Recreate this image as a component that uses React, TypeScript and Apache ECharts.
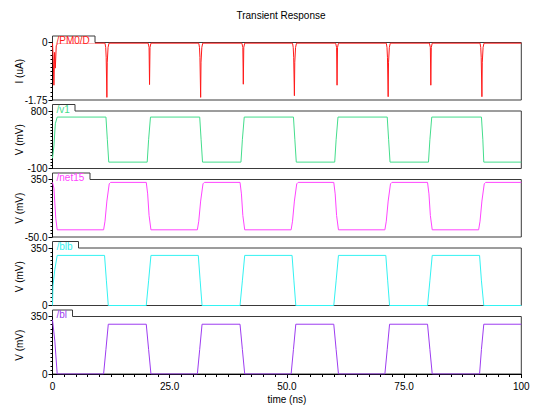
import React, { useEffect, useRef } from "react";
import * as echarts from "echarts";

// ---------- data (time in ns) ----------
const xTickLabels = ["0", "25.0", "50.0", "75.0", "100"];

const currentPM0D: [number, number][] = [
  [0, -0.02], [0.15, -0.5], [0.3, -1.3], [0.45, -0.3], [0.6, -0.78], [0.8, -0.1], [1.1, -0.02],
  [11.2, -0.02], [11.35, -0.15], [11.45, -0.45], [11.6, -1.67], [11.68, -0.6], [11.85, -0.15], [12.05, -0.02],
  [20.4, -0.02], [20.6, -0.15], [20.7, -1.28], [20.8, -0.15], [21.0, -0.02],
  [31.2, -0.02], [31.35, -0.15], [31.45, -0.45], [31.6, -1.67], [31.68, -0.6], [31.85, -0.15], [32.05, -0.02],
  [40.4, -0.02], [40.6, -0.15], [40.7, -1.27], [40.8, -0.15], [41.0, -0.02],
  [51.2, -0.02], [51.35, -0.15], [51.45, -0.45], [51.6, -1.62], [51.68, -0.6], [51.85, -0.15], [52.05, -0.02],
  [60.4, -0.02], [60.6, -0.15], [60.7, -1.3], [60.8, -0.15], [61.0, -0.02],
  [71.2, -0.02], [71.35, -0.15], [71.45, -0.45], [71.6, -1.65], [71.68, -0.6], [71.85, -0.15], [72.05, -0.02],
  [80.4, -0.02], [80.6, -0.15], [80.7, -1.3], [80.8, -0.15], [81.0, -0.02],
  [91.2, -0.02], [91.35, -0.15], [91.45, -0.45], [91.6, -1.65], [91.68, -0.6], [91.85, -0.15], [92.05, -0.02],
  [100, -0.02],
];

const v1: [number, number][] = [
  [0, 60], [0.3, 250], [0.6, 600], [1.0, 705],
  [11.4, 705], [11.7, 350], [12.0, 0], [20.2, 0], [20.5, 350], [20.9, 705],
  [31.4, 705], [31.7, 350], [32.0, 0], [40.2, 0], [40.5, 350], [40.9, 705],
  [51.4, 705], [51.7, 350], [52.0, 0], [60.2, 0], [60.5, 350], [60.9, 705],
  [71.4, 705], [71.7, 350], [72.0, 0], [80.2, 0], [80.5, 350], [80.9, 705],
  [91.5, 705], [91.8, 350], [92.0, 0], [100, 0],
];

const net15: [number, number][] = [
  [0, 330], [0.3, 290], [0.7, 80], [1.0, 0],
  [10.9, 0], [11.2, 60], [11.6, 200], [12.1, 320], [12.4, 330], [20.0, 330], [20.3, 250], [20.6, 100], [21.0, 0],
  [30.9, 0], [31.2, 60], [31.6, 200], [32.1, 320], [32.4, 330], [40.0, 330], [40.3, 250], [40.6, 100], [41.0, 0],
  [50.9, 0], [51.2, 60], [51.6, 200], [52.1, 320], [52.4, 330], [60.0, 330], [60.3, 250], [60.6, 100], [61.0, 0],
  [70.9, 0], [71.2, 60], [71.6, 200], [72.1, 320], [72.4, 330], [80.0, 330], [80.3, 250], [80.6, 100], [81.0, 0],
  [90.9, 0], [91.2, 60], [91.6, 200], [92.1, 320], [92.4, 330], [100, 330],
];

const blb: [number, number][] = [
  [0, 0], [0.1, 120], [0.5, 220], [1.0, 305],
  [11.1, 305], [11.5, 150], [11.9, 0], [20.0, 0], [20.5, 150], [21.0, 305],
  [31.1, 305], [31.5, 150], [31.9, 0], [40.0, 0], [40.5, 150], [41.0, 305],
  [51.1, 305], [51.5, 150], [51.9, 0], [60.0, 0], [60.5, 150], [61.0, 305],
  [71.1, 305], [71.5, 150], [71.9, 0], [80.0, 0], [80.5, 150], [81.0, 305],
  [91.1, 305], [91.5, 150], [92.0, 0], [100, 0],
];

const bl: [number, number][] = [
  [0, 330], [0.5, 200], [1.0, 0],
  [10.9, 0], [11.4, 150], [11.9, 303], [20.0, 303], [20.5, 150], [21.0, 0],
  [30.9, 0], [31.4, 150], [31.9, 303], [40.0, 303], [40.5, 150], [41.0, 0],
  [50.9, 0], [51.4, 150], [51.9, 303], [60.0, 303], [60.5, 150], [61.0, 0],
  [70.9, 0], [71.4, 150], [71.9, 303], [80.0, 303], [80.5, 150], [81.0, 0],
  [91.1, 0], [91.5, 150], [92.0, 303], [100, 303],
];

const signalNames = ["/PM0/D", "/v1", "/net15", "/blb", "/bl"];
const signalData = [currentPM0D, v1, net15, blb, bl];
const yNames = ["I (uA)", "V (mV)", "V (mV)", "V (mV)", "V (mV)"];
const yMins = [-1.75, -100, -50, 0, 0];
const yMaxs = [0, 800, 350, 350, 350];
const yTickLabels = [
  ["-1.75", "0"],
  ["-100", "800"],
  ["-50.0", "350"],
  ["0", "350"],
  ["0", "350"],
];

// ---------- styling ----------
const COLORS = ["#ff1a1a", "#44dd8c", "#ff44ff", "#33f2f2", "#9d3cf0"];
const FONT = '"Liberation Sans", Arial, sans-serif';
const GRID_LEFT = 52.5;
const GRID_RIGHT = 11.7;
const GRID_TOPS = [42.5, 111, 179.5, 248, 316.5];
const GRID_H = 57.5;
const TAB_W = [42.5, 22.5, 37.5, 26, 20];
const MINOR_SPLITS = [14, 18, 16, 14, 14];

export default function App() {
  const ref = useRef<HTMLDivElement>(null);

  useEffect(() => {
    document.body.style.margin = "0";
    if (!ref.current) return;
    const chart = echarts.init(ref.current, undefined, { renderer: "svg" });

    const grids = GRID_TOPS.map((top) => ({
      left: GRID_LEFT,
      right: GRID_RIGHT,
      top,
      height: GRID_H,
      show: true,
      borderColor: "#3a3a3a",
      borderWidth: 1,
      backgroundColor: "#fff",
    }));

    const xAxes = GRID_TOPS.map((_, i) => {
      const last = i === GRID_TOPS.length - 1;
      return {
        type: "value",
        gridIndex: i,
        min: 0,
        max: 100,
        interval: 25,
        show: last,
        name: last ? "time (ns)" : "",
        nameLocation: "middle",
        nameGap: 20,
        nameMoveOverlap: false,
        nameTextStyle: { fontFamily: FONT, fontSize: 10, color: "#000" },
        axisLine: { show: true, lineStyle: { color: "#000", width: 1 } },
        axisTick: { show: true, length: 4, lineStyle: { color: "#000" } },
        minorTick: { show: true, splitNumber: 10, length: 3, lineStyle: { color: "#000" } },
        splitLine: { show: false },
        axisLabel: {
          show: true,
          margin: 7,
          fontFamily: FONT,
          fontSize: 10,
          color: "#000",
          formatter: (v: number) => xTickLabels[Math.round(v / 25)] ?? String(v),
        },
      };
    });

    const yAxes = GRID_TOPS.map((_, i) => ({
      type: "value",
      gridIndex: i,
      min: yMins[i],
      max: yMaxs[i],
      interval: yMaxs[i] - yMins[i],
      name: yNames[i],
      nameLocation: "middle",
      nameGap: 28,
      nameMoveOverlap: false,
      nameTextStyle: { fontFamily: FONT, fontSize: 10, color: "#000" },
      axisLine: { show: true, lineStyle: { color: "#000", width: 1 } },
      axisTick: { show: true, length: 4, lineStyle: { color: "#000" } },
      minorTick: { show: true, splitNumber: MINOR_SPLITS[i], length: 2, lineStyle: { color: "#000" } },
      splitLine: { show: false },
      axisLabel: {
        margin: 5,
        fontFamily: FONT,
        fontSize: 10,
        color: "#000",
        formatter: (v: number) =>
          Math.abs(v - yMins[i]) < 1e-9 ? yTickLabels[i][0] : yTickLabels[i][1],
      },
    }));

    const series = signalData.map((d, i) => ({
      type: "line",
      name: signalNames[i],
      xAxisIndex: i,
      yAxisIndex: i,
      data: d,
      symbol: "none",
      lineStyle: { color: COLORS[i], width: 1 },
      clip: true,
      z: 3,
    }));

    const graphics: any[] = [
      {
        type: "text",
        x: 281,
        y: 15,
        z: 100,
        style: {
          text: "Transient Response",
          fill: "#000",
          font: `10px ${FONT}`,
          align: "center",
          verticalAlign: "middle",
        },
      },
    ];
    GRID_TOPS.forEach((top, i) => {
      const x0 = GRID_LEFT + 0.5;
      const x1 = GRID_LEFT + TAB_W[i];
      graphics.push({
        type: "rect",
        z: 90,
        shape: { x: x0, y: top - 6.5, width: TAB_W[i] - 0.5, height: 7.5 },
        style: { fill: "#fff", stroke: "none" },
      });
      graphics.push({
        type: "polyline",
        z: 91,
        shape: {
          points: [
            [GRID_LEFT, top],
            [GRID_LEFT, top - 6.5],
            [x1, top - 6.5],
            [x1, top],
          ],
        },
        style: { fill: "none", stroke: "#3a3a3a", lineWidth: 1 },
      });
      graphics.push({
        type: "text",
        z: 100,
        x: GRID_LEFT + 4,
        y: top - 2,
        style: {
          text: signalNames[i],
          fill: COLORS[i],
          font: `10px ${FONT}`,
          align: "left",
          verticalAlign: "middle",
        },
      });
    });

    chart.setOption({
      animation: false,
      backgroundColor: "#fff",
      grid: grids,
      xAxis: xAxes,
      yAxis: yAxes,
      series,
      graphic: graphics,
    } as any);

    return () => chart.dispose();
  }, []);

  return (
    <div
      ref={ref}
      style={{ position: "fixed", left: 0, top: 0, width: 533, height: 405 }}
    />
  );
}
